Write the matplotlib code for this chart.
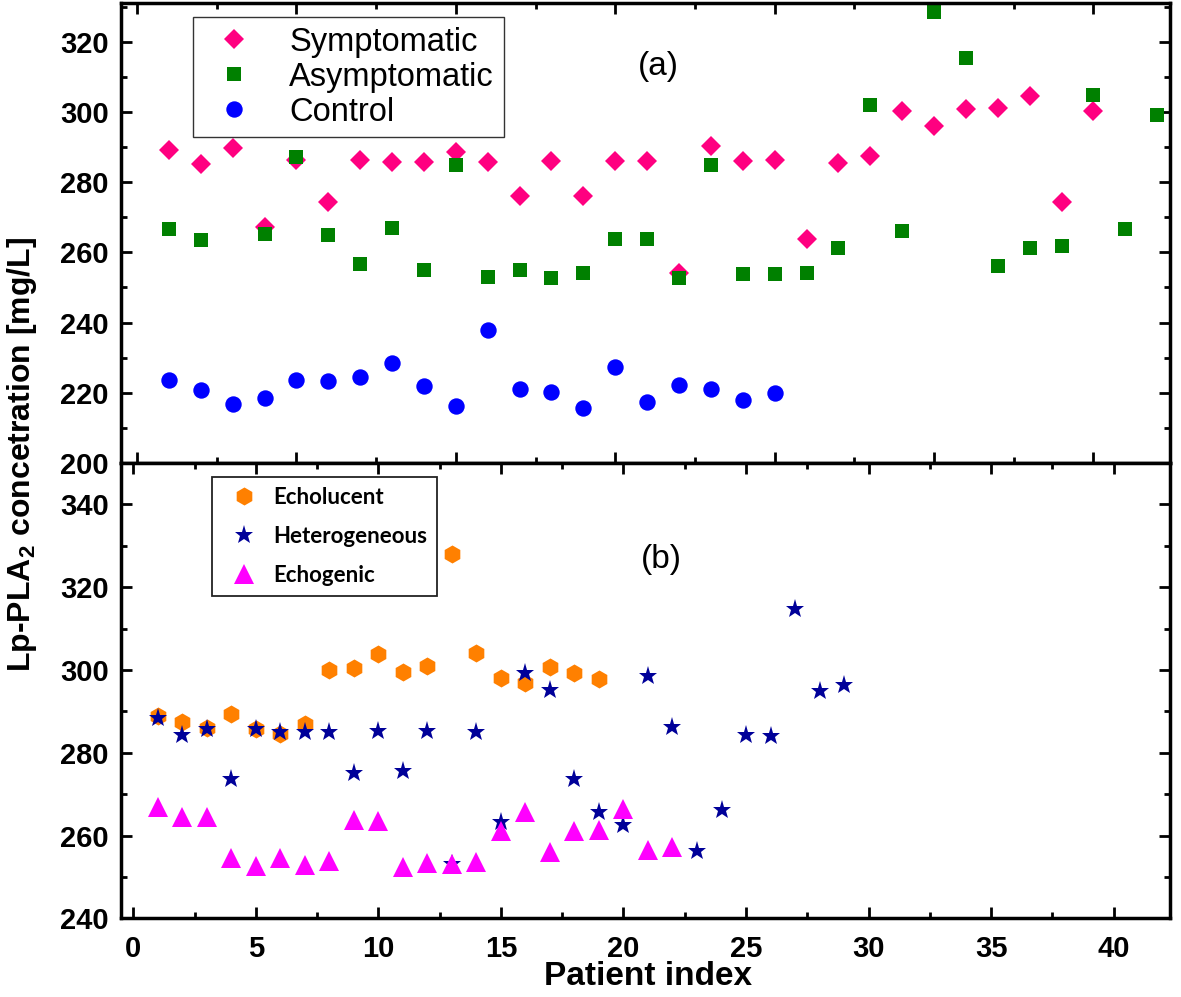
import matplotlib
matplotlib.use("Agg")
import matplotlib.pyplot as plt
from matplotlib.ticker import MultipleLocator

# ---- data ----
# panel (a)
sym_idx = list(range(1, 31))
sym_vals = [289.0, 285.1, 289.7, 267.2, 286.2, 274.3, 286.4, 285.8, 285.7, 288.6,
            285.8, 276.0, 285.9, 276.0, 286.1, 286.1, 254.1, 290.3, 285.9, 286.4,
            263.7, 285.4, 287.3, 300.1, 295.9, 300.9, 301.1, 304.6, 274.3, 300.1]

asym_idx = [1, 2, 4, 5, 6, 7, 8, 9, 10, 11, 12, 13, 14, 15, 16, 17, 18, 19, 20, 21,
            22, 23, 24, 25, 26, 27, 28, 29, 30, 31, 32]
asym_vals = [266.7, 263.4, 265.1, 287.1, 264.9, 256.8, 266.8, 254.9, 285.0, 253.0,
             254.9, 252.8, 254.0, 263.8, 263.8, 252.8, 284.8, 253.7, 253.7, 254.0,
             261.3, 301.9, 266.0, 328.4, 315.4, 256.1, 261.3, 261.7, 304.7, 266.7, 299.0]

ctrl_idx = list(range(1, 21))
ctrl_vals = [223.6, 220.8, 216.7, 218.4, 223.6, 223.3, 224.6, 228.4, 221.9, 216.2,
             237.8, 221.0, 220.2, 215.7, 227.4, 217.4, 222.2, 221.0, 217.9, 220.0]

# panel (b)
echolu_idx = list(range(1, 20))
echolu_vals = [288.9, 287.5, 286.0, 289.3, 285.7, 284.5, 286.9, 300.0, 300.4, 303.8,
               299.6, 301.0, 328.1, 304.2, 298.1, 296.9, 300.7, 299.2, 297.7]

hetero_idx = list(range(1, 30))
hetero_vals = [288.4, 284.3, 285.7, 273.7, 285.7, 285.1, 285.1, 285.1, 275.1, 285.3,
               275.5, 285.3, 253.2, 285.1, 263.2, 299.3, 295.1, 273.7, 265.8, 262.6,
               298.5, 286.3, 256.3, 266.1, 284.3, 284.1, 314.7, 294.9, 296.4]

echog_idx = list(range(1, 23))
echog_vals = [266.9, 264.6, 264.4, 254.6, 252.6, 254.6, 252.8, 253.8, 263.7, 263.4,
              252.4, 253.4, 253.2, 253.6, 261.1, 265.7, 256.0, 261.0, 261.4, 266.5,
              256.4, 257.2]

plt.rcParams['font.family'] = ['Liberation Sans', 'DejaVu Sans']
plt.rcParams['mathtext.fontset'] = 'custom'
plt.rcParams['mathtext.rm'] = 'Liberation Sans:bold'
plt.rcParams['mathtext.bf'] = 'Liberation Sans:bold'

fig = plt.figure(figsize=(11.81, 9.97), dpi=100)
ax1 = fig.add_axes([0.1025, 0.5356, 0.8882, 0.4614])
ax2 = fig.add_axes([0.1025, 0.0789, 0.8882, 0.4567])

# ---- panel (a) ----
ax1.plot(sym_idx, sym_vals, 'D', color='#FF0080', ms=10.5, mew=0, label='Symptomatic')
ax1.plot(asym_idx, asym_vals, 's', color='#008000', ms=10.6, mew=0, label='Asymptomatic')
ax1.plot(ctrl_idx, ctrl_vals, 'o', color='#0000FF', ms=11.8, mew=0, label='Control')
ax1.set_xlim(-0.5, 32.4)
ax1.set_ylim(200, 331)
ax1.xaxis.set_major_locator(MultipleLocator(5))
ax1.xaxis.set_minor_locator(MultipleLocator(2.5))
ax1.yaxis.set_major_locator(MultipleLocator(20))
ax1.yaxis.set_minor_locator(MultipleLocator(10))
ax1.tick_params(labelbottom=False)
leg1 = ax1.legend(loc='upper left', bbox_to_anchor=(0.0686, 0.9696), borderaxespad=0,
                  prop={'weight': 'normal', 'size': 23.5}, handlelength=1.9,
                  handletextpad=0.75, labelspacing=0.12, borderpad=0.3,
                  fancybox=False, edgecolor='#333333', framealpha=1)
leg1.get_frame().set_linewidth(1.0)
ax1.text(0.512, 0.861, '(a)', transform=ax1.transAxes, ha='center', va='center',
         fontsize=24)

# ---- panel (b) ----
ax2.plot(echolu_idx, echolu_vals, 'h', color='#FF8000', ms=13, mew=0, label='Echolucent')
ax2.plot(hetero_idx, hetero_vals, '*', color='#000099', ms=14, mew=0, label='Heterogeneous')
ax2.plot(echog_idx, echog_vals, '^', color='#FF00FF', ms=14, mew=0, label='Echogenic')
ax2.set_xlim(-0.5, 42.3)
ax2.set_ylim(240, 350)
ax2.xaxis.set_major_locator(MultipleLocator(5))
ax2.xaxis.set_minor_locator(MultipleLocator(2.5))
ax2.yaxis.set_major_locator(MultipleLocator(20))
ax2.yaxis.set_minor_locator(MultipleLocator(10))
leg2 = ax2.legend(loc='upper left', bbox_to_anchor=(0.0868, 0.969), borderaxespad=0,
                  prop={'family': 'Lato', 'weight': 'bold', 'size': 16},
                  handlelength=2.0, handletextpad=0.3, labelspacing=0.8,
                  borderpad=0.45, fancybox=False, edgecolor='#222222', framealpha=1)
leg2.get_frame().set_linewidth(1.3)
ax2.text(0.515, 0.787, '(b)', transform=ax2.transAxes, ha='center', va='center',
         fontsize=24)

for ax in (ax1, ax2):
    for s in ax.spines.values():
        s.set_linewidth(2.5)
    ax.tick_params(which='both', direction='in', top=True, right=True, width=2,
                   labelsize=21)
    ax.tick_params(which='major', length=8)
    ax.tick_params(axis='y', which='major', pad=9)
    ax.tick_params(axis='x', which='major', pad=12)
    ax.tick_params(which='minor', length=4)
    for lbl in ax.get_xticklabels() + ax.get_yticklabels():
        lbl.set_fontweight('bold')

fig.text(0.0186, 0.5446, r'Lp-PLA$_{2}$ concetration [mg/L]', rotation=90,
         ha='center', va='center', fontsize=23, fontweight='bold')
# x label sits just under the tick labels, as in the original
fig.text(0.549, 0.0125, 'Patient index', ha='center', va='baseline',
         fontsize=24, fontweight='bold')

fig.savefig('out.png', dpi=100)
